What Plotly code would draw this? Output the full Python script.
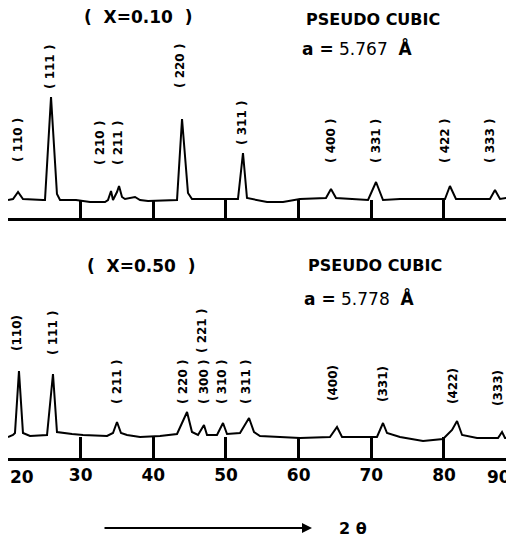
import plotly.graph_objects as go

# ---------------- data ----------------
two_theta_top = [20.00, 20.69, 21.38, 22.06, 24.82, 25.09, 25.92, 26.74, 27.16, 29.36,
                 31.29, 33.35, 33.76, 34.18, 34.45, 35.00, 35.28, 35.69, 36.10, 37.48,
                 38.17, 39.27, 43.26, 43.95, 44.77, 45.32, 51.65, 52.34, 52.89, 54.27,
                 55.65, 57.85, 60.19, 63.76, 64.45, 65.14, 69.55, 70.65, 71.61, 73.95,
                 80.14, 80.82, 81.65, 86.33, 87.02, 87.71, 89.50]
intensity_top = [18, 19, 26, 19, 18, 18, 121, 24, 18, 18,
                 16, 16, 18, 27, 18, 26, 32, 21, 19, 21,
                 18, 17, 18, 99, 25, 19, 19, 65, 20, 18,
                 16, 16, 19, 20, 29, 20, 18, 36, 18, 19,
                 19, 32, 19, 19, 28, 19, 21]

two_theta_bot = [20.00, 20.69, 20.96, 21.51, 22.06, 23.03, 25.37, 26.19, 26.74, 27.57,
                 28.81, 30.32, 33.63, 34.45, 35.00, 35.55, 36.38, 38.17, 40.92, 43.26,
                 43.95, 44.64, 45.32, 46.15, 46.97, 47.39, 48.76, 49.59, 50.14, 51.93,
                 53.17, 53.86, 54.68, 60.19, 64.31, 65.28, 65.97, 70.78, 71.61, 72.16,
                 73.95, 77.12, 79.87, 81.11, 81.80, 82.49, 84.55, 87.44, 87.99, 88.40,
                 89.50]
intensity_bot = [21, 23, 25, 87, 25, 22, 23, 84, 26, 25,
                 24, 23, 22, 25, 36, 25, 23, 21, 22, 24,
                 35, 46, 26, 23, 33, 23, 23, 35, 24, 25,
                 40, 26, 22, 20, 21, 31, 21, 21, 35, 25,
                 21, 17, 19, 28, 37, 23, 20, 20, 26, 20,
                 20]

# peak labels: text, 2-theta position, label height (same units as intensity)
labels_top = ["( 110 )", "( 111 )", "( 210 )", "( 211 )", "( 220 )", "( 311 )",
              "( 400 )", "( 331 )", "( 422 )", "( 333 )"]
labels_top_x = [21.38, 25.78, 32.66, 35.14, 43.67, 52.20, 64.45, 70.65, 80.14, 86.33]
labels_top_y = [78, 151, 75, 75, 152, 95, 77, 77, 77, 77]

labels_bot = ["(110)", "( 111 )", "( 211 )", "( 220 )", "( 300 )", "( 221 )",
              "( 310 )", "( 311 )", "(400)", "(331)", "(422)", "(333)"]
labels_bot_x = [21.24, 26.19, 35.00, 44.08, 46.97, 46.70, 49.45, 52.75, 64.73, 71.61, 81.24, 87.44]
labels_bot_y = [125, 125, 76, 76, 76, 127, 76, 76, 75, 74, 72, 70]

tick_vals = [20, 30, 40, 50, 60, 70, 80, 89.5]
tick_text = ["", "30", "40", "50", "60", "70", "80", ""]
x_range = [20, 89.5]

FONT = "DejaVu Sans, Verdana, sans-serif"

# the page body has an 8px margin; lay out in page pixels and convert
OX, OY = 8, 8
W, H = 514 - OX, 541 - OY


def px(x):
    return (x - OX) / W


def py(y):
    return 1 - (y - OY) / H


fig = go.Figure()
fig.add_trace(go.Scatter(x=two_theta_top, y=intensity_top, mode="lines",
                         line=dict(color="black", width=2), xaxis="x", yaxis="y",
                         showlegend=False, hoverinfo="skip"))
fig.add_trace(go.Scatter(x=two_theta_bot, y=intensity_bot, mode="lines",
                         line=dict(color="black", width=2), xaxis="x2", yaxis="y2",
                         showlegend=False, hoverinfo="skip"))

xdom = [px(8), px(513)]


def xaxis_cfg(showlabels, ticklen):
    return dict(domain=xdom, range=x_range, tickvals=tick_vals,
                ticktext=[f"<b>{t}</b>" for t in tick_text] if showlabels else [""] * len(tick_vals),
                ticks="inside", ticklen=ticklen, tickwidth=2.5, tickcolor="black",
                showline=True, linewidth=2.5, linecolor="black", showgrid=False,
                zeroline=False, tickfont=dict(family=FONT, size=17, color="black"),
                fixedrange=True)


fig.update_layout(
    width=W, height=H,
    margin=dict(l=0, r=0, t=0, b=0),
    paper_bgcolor="white", plot_bgcolor="white",
    xaxis=dict(**xaxis_cfg(False, 18), anchor="y"),
    yaxis=dict(domain=[py(218), py(30)], range=[0, 188], visible=False, fixedrange=True),
    xaxis2=dict(**xaxis_cfg(True, 21), anchor="y2"),
    yaxis2=dict(domain=[py(458), py(280)], range=[0, 178], visible=False, fixedrange=True),
)

lab_font = dict(family=FONT, size=12, color="black")
ann = []
for t, x, y in zip(labels_top, labels_top_x, labels_top_y):
    ann.append(dict(x=x, y=y, xref="x", yref="y", text=f"<b>{t}</b>", textangle=-90,
                    xanchor="center", yanchor="middle", showarrow=False, font=lab_font))
for t, x, y in zip(labels_bot, labels_bot_x, labels_bot_y):
    ann.append(dict(x=x, y=y, xref="x2", yref="y2", text=f"<b>{t}</b>", textangle=-90,
                    xanchor="center", yanchor="middle", showarrow=False, font=lab_font))

# edge tick labels 20 and 90
tick_font = dict(family=FONT, size=17, color="black")
ann.append(dict(x=20, y=py(477), xref="x2", yref="paper", text="<b>20</b>",
                xanchor="left", yanchor="middle", showarrow=False, font=tick_font))
ann.append(dict(x=89.5, y=py(477), xref="x2", yref="paper", text="<b>90</b>",
                xanchor="right", yanchor="middle", showarrow=False, font=tick_font))

# titles
title_font = dict(family=FONT, size=17, color="black")
pc_font = dict(family=FONT, size=16, color="black")
ann += [
    dict(x=px(138), y=py(17), text="<b>(  X=0.10  )</b>", xanchor="center", font=title_font),
    dict(x=px(373), y=py(20), text="<b>PSEUDO CUBIC</b>", xanchor="center", font=pc_font),
    dict(x=px(300), y=py(48), text="<b>a =</b> 5.767  <b>Å</b>", xanchor="left", font=title_font),
    dict(x=px(141), y=py(266), text="<b>(  X=0.50  )</b>", xanchor="center", font=title_font),
    dict(x=px(375), y=py(265), text="<b>PSEUDO CUBIC</b>", xanchor="center", font=pc_font),
    dict(x=px(302), y=py(298), text="<b>a =</b> 5.778  <b>Å</b>", xanchor="left", font=title_font),
    dict(x=px(353), y=py(528), text="<b>2 θ</b>", xanchor="center", font=pc_font),
]
for a in ann[-7:]:
    a.update(xref="paper", yref="paper", yanchor="middle", showarrow=False)

# 2-theta arrow
ann.append(dict(x=px(312), y=py(528), xref="paper", yref="paper", text="", showarrow=True,
                ax=-209, ay=0, arrowhead=2, arrowsize=1, arrowwidth=2, arrowcolor="black"))
fig.update_layout(annotations=ann)

fig.write_html("out.html")
